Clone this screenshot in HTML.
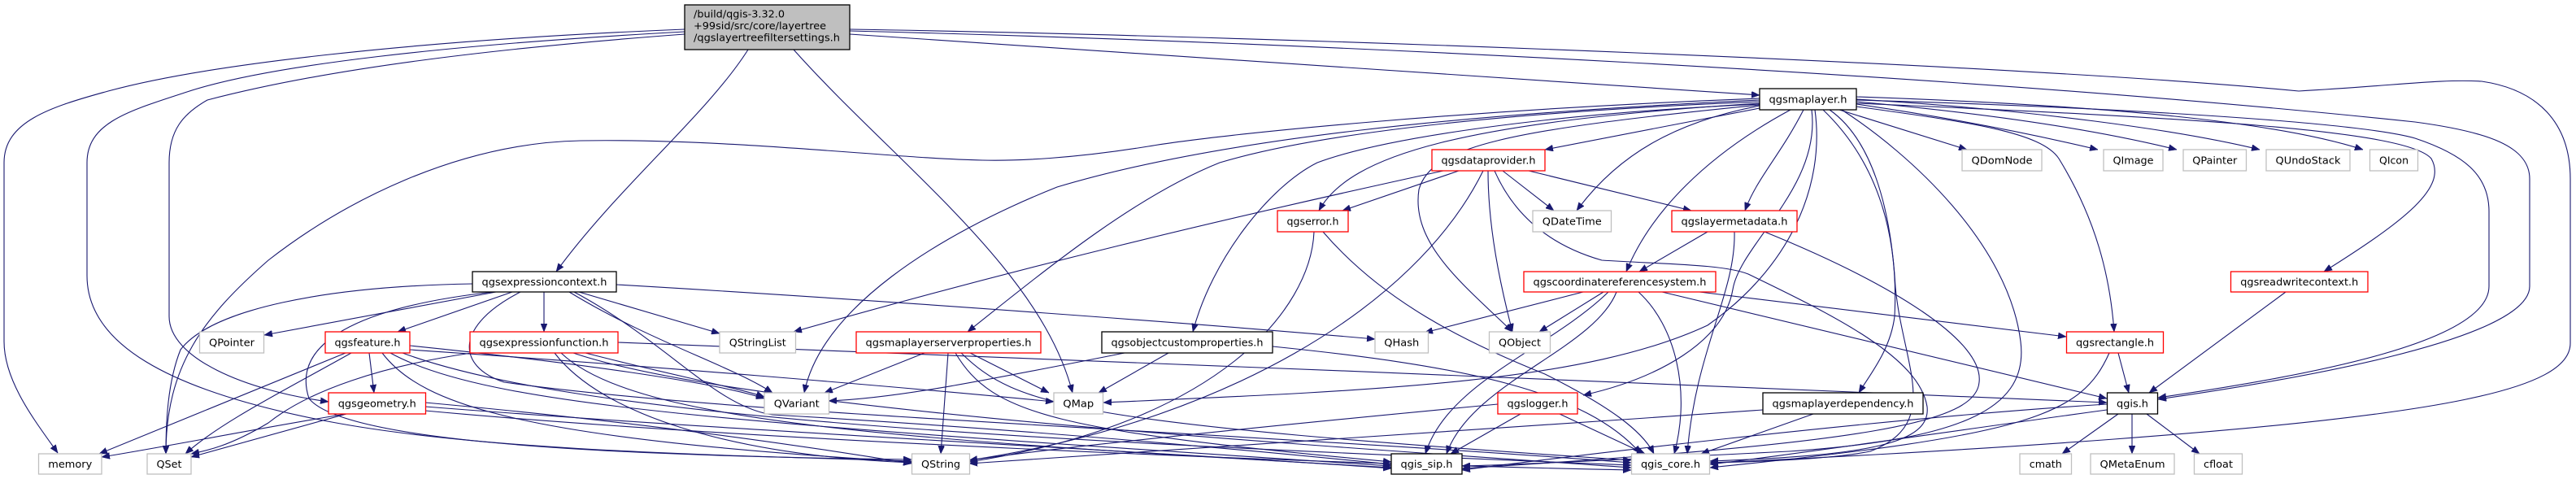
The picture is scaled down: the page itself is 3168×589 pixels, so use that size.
<!DOCTYPE html>
<html><head><meta charset="utf-8"><style>
html,body{margin:0;padding:0;background:#fff;}
svg{display:block;}
text{font-family:"DejaVu Sans","Liberation Sans",sans-serif;font-size:12.5px;fill:#000;}
.e{fill:none;stroke:#191970;stroke-width:1.1;marker-end:url(#a);}
.nb{fill:#fff;stroke:#000;stroke-width:1.3;}
.nr{fill:#fff;stroke:#ff0000;stroke-width:1.3;}
.ng{fill:#fff;stroke:#bfbfbf;stroke-width:1.3;}
</style></head><body>
<svg width="3168" height="589" viewBox="0 0 3168 589" xmlns="http://www.w3.org/2000/svg">
<defs>
<marker id="a" markerUnits="userSpaceOnUse" viewBox="0 0 10 8" refX="10" refY="4" markerWidth="10" markerHeight="8" orient="auto">
<path d="M0,0 L10,4 L0,8 z" fill="#191970" stroke="#191970" stroke-width="0.5"/>
</marker>
</defs>
<rect width="3168" height="589" fill="#fff"/>

<!-- Root edges -->
<path class="e" d="M842,36 C 500,50 250,80 133,112 C 60,132 5,150 5,200 L 5,420 C 5,470 45,520 71,557"/>
<path class="e" d="M842,39 C 550,55 330,80 230,113 C 160,136 107,150 107,200 L 107,339 C 107,420 200,480 408,519 C 600,555 900,560 1121,567"/>
<path class="e" d="M842,42 C 600,60 400,85 255,123 C 225,140 208,160 208,200 L 208,389 C 208,440 300,480 404,494"/>
<path class="e" d="M920,61 C 870,140 760,230 684,334"/>
<path class="e" d="M976,61 C 1100,200 1280,330 1319,483"/>
<path class="e" d="M1045,42 L 2164,117"/>
<path class="e" d="M1045,38 C 1600,52 2400,90 2970,150 C 3060,162 3111,180 3111,220 L 3111,352 C 3111,420 2800,470 2654,491"/>
<path class="e" d="M1045,36 C 1600,45 2500,80 2827,112 C 2950,105 3000,97 3052,100 C 3120,110 3161,150 3161,220 L 3161,422 C 3161,480 3000,510 2600,540 C 2400,555 2200,565 2103,569"/>

<!-- qgsmaplayer edges -->
<path class="e" d="M2262,135 L 2419,184"/>
<path class="e" d="M2283,128 C 2400,145 2500,165 2580,184"/>
<path class="e" d="M2283,125 C 2450,140 2580,160 2677,184"/>
<path class="e" d="M2283,122 C 2500,135 2680,160 2779,184"/>
<path class="e" d="M2283,119 C 2600,130 2800,150 2906,184"/>
<path class="e" d="M2283,123 C 2600,132 2900,150 2970,170 C 3030,190 3061,215 3061,260 L 3061,352 C 3061,420 2850,460 2654,489"/>
<path class="e" d="M2283,127 C 2700,145 2960,160 2990,195 C 3010,230 2960,270 2858,334"/>
<path class="e" d="M2283,131 C 2420,150 2510,162 2532,195 C 2578,270 2595,340 2600,408"/>
<path class="e" d="M2164,133 L 1900,184"/>
<path class="e" d="M2164,130 C 2060,150 1990,190 1939,259"/>
<path class="e" d="M2218,135 C 2190,190 2160,220 2146,259"/>
<path class="e" d="M2202,135 C 2100,190 2030,260 2000,334"/>
<path class="e" d="M2242,135 C 2310,200 2335,290 2330,389 C 2325,430 2300,460 2286,483"/>
<path class="e" d="M2228,135 C 2240,230 2140,300 2131,356 C 2120,420 2040,465 1947,486"/>
<path class="e" d="M2250,135 C 2300,170 2325,250 2331,353 C 2340,450 2390,520 2300,555 C 2250,565 2150,568 2103,569"/>
<path class="e" d="M2265,135 C 2350,190 2470,300 2485,420 C 2495,500 2420,540 2200,555 C 2000,565 1850,572 1798,573"/>
<path class="e" d="M2164,127 C 1800,150 1660,190 1622,259"/>
<path class="e" d="M2164,129 C 1850,160 1760,180 1745,233 C 1735,300 1800,350 1860,408"/>
<path class="e" d="M2164,125 C 1800,140 1600,170 1500,200 C 1400,240 1300,320 1190,408"/>
<path class="e" d="M2164,128 C 1900,140 1700,170 1620,200 C 1560,230 1490,320 1467,408"/>
<path class="e" d="M2164,123 C 1800,140 1500,170 1300,230 C 1150,290 1010,380 989,483"/>
<path class="e" d="M2164,121 C 1800,135 1500,165 1412,180 C 1320,195 1250,198 1208,197 C 1100,195 900,170 714,173 C 560,176 420,250 330,320 C 250,390 204,450 204,558"/>
<path class="e" d="M2232,135 C 2245,230 2200,330 2100,400 C 1950,470 1700,480 1357,495"/>

<!-- qgsdataprovider edges -->
<path class="e" d="M1794,210 L 1651,259"/>
<path class="e" d="M1848,210 L 1911,259"/>
<path class="e" d="M1880,210 L 2080,259"/>
<path class="e" d="M1775,210 C 1500,270 1250,330 976,408"/>
<path class="e" d="M1830,210 C 1830,280 1845,350 1860,408"/>
<path class="e" d="M1824,210 C 1740,380 1500,520 1192,566"/>
<path class="e" d="M1838,210 C 1860,260 1900,300 1970,320 C 2050,325 2120,325 2150,337 C 2260,390 2360,440 2370,500 C 2375,545 2300,560 2103,567"/>

<!-- qgserror edges -->
<path class="e" d="M1616,285 C 1612,380 1500,520 1192,568"/>
<path class="e" d="M1627,285 C 1700,370 1800,420 1900,460 C 1980,500 2020,530 2034,558"/>

<!-- qgslayermetadata edges -->
<path class="e" d="M2100,285 L 2016,334"/>
<path class="e" d="M2133,285 C 2135,360 2085,430 2075,558"/>
<path class="e" d="M2170,285 C 2330,350 2440,420 2434,470 C 2430,520 2300,545 1798,576"/>

<!-- CRS edges -->
<path class="e" d="M1947,359 L 1752,409"/>
<path class="e" d="M1972,359 L 1893,408"/>
<path class="e" d="M1988,359 C 1960,430 1810,470 1779,558"/>
<path class="e" d="M1978,359 C 1906,429 1780,470 1753,558"/>
<path class="e" d="M2015,359 C 2060,400 2080,480 2059,558"/>
<path class="e" d="M2090,359 L 2541,414"/>
<path class="e" d="M2044,359 L 2591,490"/>

<!-- qgsexpressioncontext edges -->
<path class="e" d="M610,359 L 325,412"/>
<path class="e" d="M630,359 L 489,408"/>
<path class="e" d="M669,359 L 669,408"/>
<path class="e" d="M712,359 L 885,410"/>
<path class="e" d="M700,359 C 800,420 900,450 950,483"/>
<path class="e" d="M706,359 C 820,420 880,500 950,510 C 1300,530 1600,560 1711,571"/>
<path class="e" d="M581,349 C 400,352 260,380 222,430 C 206,470 204,520 204,558"/>
<path class="e" d="M606,359 C 420,380 360,430 380,490 C 420,540 700,560 1121,565"/>
<path class="e" d="M640,359 C 560,400 560,450 620,470 C 900,510 1500,530 2006,569"/>
<path class="e" d="M758,350 C 1100,370 1500,400 1691,417"/>

<!-- qgsfeature edges -->
<path class="e" d="M454,434 L 460,483"/>
<path class="e" d="M425,434 L 122,558"/>
<path class="e" d="M432,434 C 350,480 270,520 228,558"/>
<path class="e" d="M504,430 C 800,450 1100,475 1296,494"/>
<path class="e" d="M504,425 C 700,445 880,470 940,490"/>
<path class="e" d="M470,434 C 520,500 650,540 1121,568"/>
<path class="e" d="M480,434 C 600,500 900,520 1711,573"/>
<path class="e" d="M495,434 C 700,510 1200,540 2006,572"/>

<!-- qgsexpressionfunction edges -->
<path class="e" d="M580,434 C 470,450 380,480 330,520 C 280,550 250,555 235,558"/>
<path class="e" d="M720,434 C 820,460 900,475 940,488"/>
<path class="e" d="M760,421 C 1200,440 2200,475 2591,495"/>
<path class="e" d="M682,434 C 740,510 900,560 1121,569"/>
<path class="e" d="M690,434 C 780,520 1100,540 1711,575"/>
<path class="e" d="M705,434 C 900,500 1500,540 2006,575"/>

<!-- qgsgeometry edges -->
<path class="e" d="M425,509 C 300,530 200,550 125,562"/>
<path class="e" d="M426,509 L 235,562"/>
<path class="e" d="M523,495 C 800,520 1000,550 1121,570"/>
<path class="e" d="M523,500 C 900,530 1500,560 1711,576"/>
<path class="e" d="M523,505 C 900,540 1600,570 2006,578"/>

<!-- qgsmaplayerserverproperties edges -->
<path class="e" d="M1137,434 L 1014,483"/>
<path class="e" d="M1193,434 L 1290,483"/>
<path class="e" d="M1166,434 L 1157,558"/>
<path class="e" d="M1175,434 C 1220,510 1300,530 1711,568"/>
<path class="e" d="M1182,434 C 1250,500 1320,520 2006,566"/>

<!-- qgsobjectcustomproperties edges -->
<path class="e" d="M1383,434 C 1200,470 1100,490 1019,493"/>
<path class="e" d="M1437,434 L 1351,483"/>
<path class="e" d="M1565,426 C 1800,450 1950,480 2018,558"/>

<!-- qgslogger edges -->
<path class="e" d="M1842,497 C 1600,520 1300,550 1192,566"/>
<path class="e" d="M1870,509 L 1784,558"/>
<path class="e" d="M1918,509 L 2023,558"/>

<!-- qgsmaplayerdependency edges -->
<path class="e" d="M2230,509 L 2092,558"/>
<path class="e" d="M2168,504 C 1800,530 1400,555 1192,570"/>

<!-- qgsrectangle edges -->
<path class="e" d="M2605,434 L 2618,483"/>
<path class="e" d="M2594,434 C 2560,510 2500,535 2103,575"/>

<!-- qgsreadwritecontext -->
<path class="e" d="M2811,359 L 2643,483"/>

<!-- qgis.h edges -->
<path class="e" d="M2605,509 L 2536,558"/>
<path class="e" d="M2622,509 L 2622,558"/>
<path class="e" d="M2640,509 L 2705,558"/>
<path class="e" d="M2591,497 C 2300,515 1900,565 1798,578"/>
<path class="e" d="M2591,504 C 2400,530 2200,560 2103,571"/>

<!-- Nodes -->
<rect x="842" y="6" width="203" height="55" fill="#bfbfbf" stroke="#000" stroke-width="1.3"/>
<text x="853" y="21.5" textLength="112" lengthAdjust="spacingAndGlyphs">/build/qgis-3.32.0</text>
<text x="853" y="36" textLength="163" lengthAdjust="spacingAndGlyphs">+99sid/src/core/layertree</text>
<text x="853" y="50.5" textLength="180" lengthAdjust="spacingAndGlyphs">/qgslayertreefiltersettings.h</text>

<g text-anchor="middle">
<rect class="nb" x="2164" y="109" width="119" height="26"/><text x="2223.5" y="126.5" textLength="96" lengthAdjust="spacingAndGlyphs">qgsmaplayer.h</text>
<rect class="nb" x="581" y="334" width="177" height="25"/><text x="669.5" y="351" textLength="154" lengthAdjust="spacingAndGlyphs">qgsexpressioncontext.h</text>
<rect class="nb" x="1355" y="408" width="210" height="26"/><text x="1460" y="425.5" textLength="187" lengthAdjust="spacingAndGlyphs">qgsobjectcustomproperties.h</text>
<rect class="nb" x="2168" y="483" width="197" height="26"/><text x="2266.5" y="500.5" textLength="174" lengthAdjust="spacingAndGlyphs">qgsmaplayerdependency.h</text>
<rect class="nb" x="1711" y="558" width="87" height="25"/><text x="1754.5" y="575" textLength="64" lengthAdjust="spacingAndGlyphs">qgis_sip.h</text>
<rect class="nb" x="2591.5" y="483" width="62" height="26"/><text x="2622.5" y="500.5" textLength="39" lengthAdjust="spacingAndGlyphs">qgis.h</text>

<rect class="nr" x="1761" y="184" width="139" height="26"/><text x="1830.5" y="201.5" textLength="116" lengthAdjust="spacingAndGlyphs">qgsdataprovider.h</text>
<rect class="nr" x="1571" y="259" width="87" height="26"/><text x="1614.5" y="276.5" textLength="64" lengthAdjust="spacingAndGlyphs">qgserror.h</text>
<rect class="nr" x="2056" y="259" width="154" height="26"/><text x="2133" y="276.5" textLength="131" lengthAdjust="spacingAndGlyphs">qgslayermetadata.h</text>
<rect class="nr" x="1874" y="334" width="236" height="25"/><text x="1992" y="351" textLength="213" lengthAdjust="spacingAndGlyphs">qgscoordinatereferencesystem.h</text>
<rect class="nr" x="400" y="408" width="104" height="26"/><text x="452" y="425.5" textLength="81" lengthAdjust="spacingAndGlyphs">qgsfeature.h</text>
<rect class="nr" x="578" y="408" width="182" height="26"/><text x="669" y="425.5" textLength="159" lengthAdjust="spacingAndGlyphs">qgsexpressionfunction.h</text>
<rect class="nr" x="404" y="483" width="119.5" height="26"/><text x="463.75" y="500.5" textLength="96" lengthAdjust="spacingAndGlyphs">qgsgeometry.h</text>
<rect class="nr" x="1053" y="408" width="227" height="26"/><text x="1166.5" y="425.5" textLength="204" lengthAdjust="spacingAndGlyphs">qgsmaplayerserverproperties.h</text>
<rect class="nr" x="1842" y="483" width="98" height="26"/><text x="1891" y="500.5" textLength="75" lengthAdjust="spacingAndGlyphs">qgslogger.h</text>
<rect class="nr" x="2743.5" y="334" width="168.5" height="25"/><text x="2827.75" y="351" textLength="145" lengthAdjust="spacingAndGlyphs">qgsreadwritecontext.h</text>
<rect class="nr" x="2541.5" y="408" width="119" height="26"/><text x="2601" y="425.5" textLength="96" lengthAdjust="spacingAndGlyphs">qgsrectangle.h</text>

<rect class="ng" x="1885" y="259" width="96.5" height="26"/><text x="1933.25" y="276.5" textLength="73" lengthAdjust="spacingAndGlyphs">QDateTime</text>
<rect class="ng" x="2413" y="184" width="98" height="26"/><text x="2462" y="201.5" textLength="75" lengthAdjust="spacingAndGlyphs">QDomNode</text>
<rect class="ng" x="2587" y="184" width="73" height="26"/><text x="2623.5" y="201.5" textLength="50" lengthAdjust="spacingAndGlyphs">QImage</text>
<rect class="ng" x="2685" y="184" width="77.5" height="26"/><text x="2723.75" y="201.5" textLength="55" lengthAdjust="spacingAndGlyphs">QPainter</text>
<rect class="ng" x="2787" y="184" width="103" height="26"/><text x="2838.5" y="201.5" textLength="80" lengthAdjust="spacingAndGlyphs">QUndoStack</text>
<rect class="ng" x="2914.5" y="184" width="59" height="26"/><text x="2944" y="201.5" textLength="36" lengthAdjust="spacingAndGlyphs">QIcon</text>
<rect class="ng" x="245.5" y="408" width="79" height="26"/><text x="285" y="425.5" textLength="56" lengthAdjust="spacingAndGlyphs">QPointer</text>
<rect class="ng" x="47.5" y="558" width="77.5" height="25"/><text x="86.25" y="575" textLength="54" lengthAdjust="spacingAndGlyphs">memory</text>
<rect class="ng" x="181" y="558" width="54" height="25"/><text x="208" y="575" textLength="31" lengthAdjust="spacingAndGlyphs">QSet</text>
<rect class="ng" x="885" y="408" width="93.5" height="26"/><text x="931.75" y="425.5" textLength="70" lengthAdjust="spacingAndGlyphs">QStringList</text>
<rect class="ng" x="940" y="483" width="79.5" height="26"/><text x="979.75" y="500.5" textLength="56" lengthAdjust="spacingAndGlyphs">QVariant</text>
<rect class="ng" x="1296" y="483" width="60.5" height="26"/><text x="1326.25" y="500.5" textLength="38" lengthAdjust="spacingAndGlyphs">QMap</text>
<rect class="ng" x="1121.5" y="558" width="71" height="25"/><text x="1157" y="575" textLength="48" lengthAdjust="spacingAndGlyphs">QString</text>
<rect class="ng" x="1691" y="408" width="65.5" height="26"/><text x="1723.75" y="425.5" textLength="43" lengthAdjust="spacingAndGlyphs">QHash</text>
<rect class="ng" x="1831.5" y="408" width="75" height="26"/><text x="1869" y="425.5" textLength="52" lengthAdjust="spacingAndGlyphs">QObject</text>
<rect class="ng" x="2006.5" y="558" width="96" height="25"/><text x="2054.5" y="575" textLength="73" lengthAdjust="spacingAndGlyphs">qgis_core.h</text>
<rect class="ng" x="2484" y="558" width="63.5" height="25"/><text x="2515.75" y="575" textLength="40" lengthAdjust="spacingAndGlyphs">cmath</text>
<rect class="ng" x="2571" y="558" width="103" height="25"/><text x="2622.5" y="575" textLength="80" lengthAdjust="spacingAndGlyphs">QMetaEnum</text>
<rect class="ng" x="2698.5" y="558" width="59" height="25"/><text x="2728" y="575" textLength="36" lengthAdjust="spacingAndGlyphs">cfloat</text>
</g>
</svg>
</body></html>
